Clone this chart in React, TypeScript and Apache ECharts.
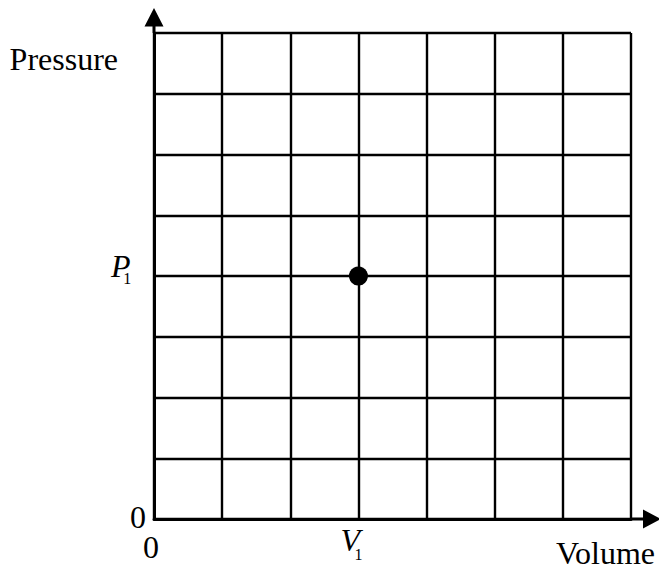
import React, { useEffect, useRef } from 'react';
import * as echarts from 'echarts';

// ---- data ----
const volumeMax = 7;       // number of grid columns on the Volume axis
const pressureMax = 8;     // number of grid rows on the Pressure axis
const stateVolume = [3];   // V1
const statePressure = [4]; // P1
const xTickValues = [0, 3];
const xTickTexts = ['0', 'V'];
const xTickSubs = ['', '1'];
const yTickValues = [0, 4];
const yTickTexts = ['0', 'P'];
const yTickSubs = ['', '1'];
const xAxisName = 'Volume';
const yAxisName = 'Pressure';

const FONT = '"Liberation Serif", "Times New Roman", serif';
const FS = 32;
const SUB = 16;

export default function App() {
  const ref = useRef<HTMLDivElement>(null);

  useEffect(() => {
    if (!ref.current) return;
    const chart = echarts.init(ref.current, null, { renderer: 'svg' });

    const points = stateVolume.map((v, i) => [v, statePressure[i]]);

    const xFormatter = (val: number) => {
      const idx = xTickValues.indexOf(val);
      if (idx < 0) return '';
      if (!xTickSubs[idx]) return '{z|' + xTickTexts[idx] + '}';
      return '{v|' + xTickTexts[idx] + '}{s|' + xTickSubs[idx] + '}';
    };
    const yFormatter = (val: number) => {
      const idx = yTickValues.indexOf(val);
      if (idx < 0) return '';
      if (!yTickSubs[idx]) return '{z|' + yTickTexts[idx] + '}';
      return '{p|' + yTickTexts[idx] + '}{s|' + yTickSubs[idx] + '}';
    };

    const yArrow = 'path://M9.5 0 L19 18.5 L11 18.5 L11 25 L8 25 L8 18.5 L0 18.5 Z';
    const xArrow = 'path://M9.5 0 L19 18 L11 18 L11 30 L8 30 L8 18 L0 18 Z';

    chart.setOption({
      animation: false,
      backgroundColor: '#fff',
      grid: {
        left: 154,
        right: 28,
        top: 33,
        bottom: 48,
        containLabel: false,
        outerBoundsMode: 'none',
      },
      xAxis: {
        type: 'value',
        min: 0,
        max: volumeMax,
        interval: 1,
        name: xAxisName,
        nameLocation: 'end',
        nameGap: 24,
        nameMoveOverlap: false,
        nameTextStyle: {
          fontFamily: FONT,
          fontSize: FS,
          color: '#000',
          align: 'right',
          verticalAlign: 'top',
          padding: [18, 0, 0, 0],
        },
        axisLine: {
          show: true,
          onZero: false,
          symbol: ['none', xArrow],
          symbolSize: [19, 30],
          symbolOffset: [0, 15],
          lineStyle: { color: '#000', width: 3 },
        },
        axisTick: { show: false },
        splitLine: { show: true, lineStyle: { color: '#000', width: 2.4 } },
        axisLabel: {
          show: true,
          margin: 28,
          verticalAlign: 'middle',
          fontFamily: FONT,
          fontSize: FS,
          color: '#000',
          showMinLabel: true,
          showMaxLabel: true,
          formatter: xFormatter,
          rich: {
            z: { fontFamily: FONT, fontSize: FS, color: '#000', padding: [0, 6, 0, 0] },
            v: { fontFamily: FONT, fontSize: FS, fontStyle: 'italic', color: '#000', padding: [0, 0, 15, 0] },
            s: { fontFamily: FONT, fontSize: SUB, color: '#000', padding: [14, 13.8, 0, -5.4] },
          },
        },
      },
      yAxis: {
        type: 'value',
        min: 0,
        max: pressureMax,
        interval: 1,
        name: yAxisName,
        nameLocation: 'end',
        nameGap: -25.5,
        nameMoveOverlap: false,
        nameTextStyle: {
          fontFamily: FONT,
          fontSize: FS,
          color: '#000',
          align: 'right',
          verticalAlign: 'middle',
          padding: [0, 36, 0, 0],
        },
        axisLine: {
          show: true,
          onZero: false,
          symbol: ['none', yArrow],
          symbolSize: [19, 25],
          symbolOffset: [0, 12.5],
          lineStyle: { color: '#000', width: 3 },
        },
        axisTick: { show: false },
        splitLine: { show: true, lineStyle: { color: '#000', width: 2.4 } },
        axisLabel: {
          show: true,
          margin: 8,
          fontFamily: FONT,
          fontSize: FS,
          color: '#000',
          showMinLabel: true,
          showMaxLabel: true,
          formatter: yFormatter,
          rich: {
            z: { fontFamily: FONT, fontSize: FS, color: '#000', padding: [0, 0, 5, 0] },
            p: { fontFamily: FONT, fontSize: FS, fontStyle: 'italic', color: '#000', padding: [0, 0, 21, 0] },
            s: { fontFamily: FONT, fontSize: SUB, color: '#000', padding: [4, 14.8, 0, -7.4] },
          },
        },
      },
      series: [
        {
          type: 'scatter',
          data: points,
          symbol: 'circle',
          symbolSize: 19,
          itemStyle: { color: '#000', opacity: 1 },
          z: 10,
        },
      ],
    });

    return () => {
      chart.dispose();
    };
  }, []);

  return (
    <div
      ref={ref}
      style={{ position: 'absolute', left: 0, top: 0, width: 659, height: 567, background: '#fff' }}
    />
  );
}
